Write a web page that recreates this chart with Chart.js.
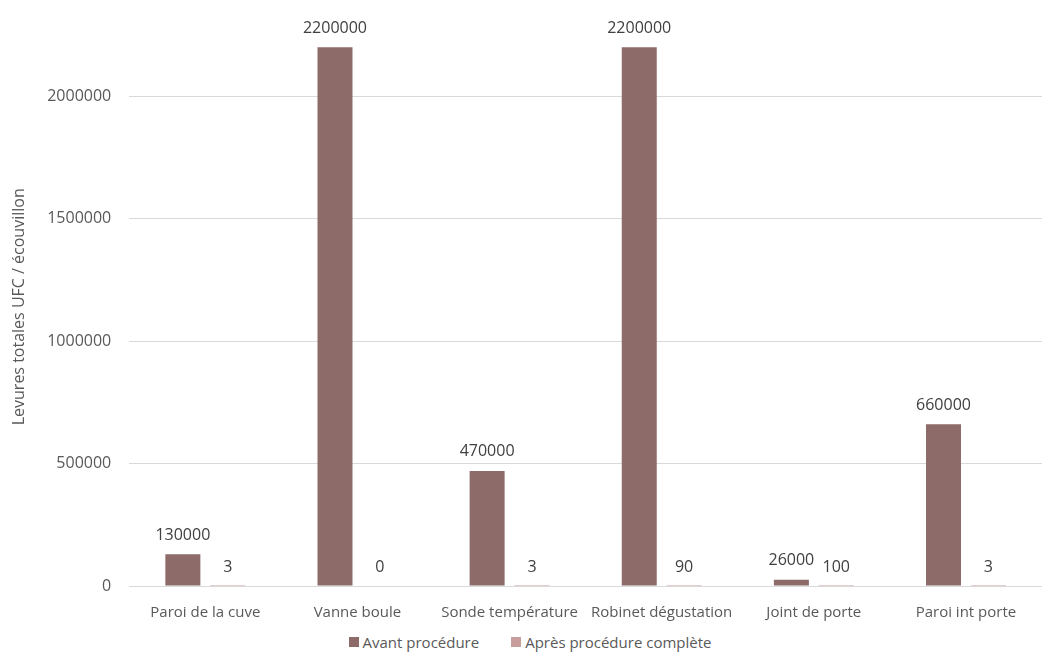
<!DOCTYPE html>
<html>
<head>
<meta charset="utf-8">
<script src="https://cdn.jsdelivr.net/npm/chart.js@4.4.0/dist/chart.umd.min.js"></script>
<style>
	html, body { margin: 0; padding: 0; background: #ffffff; }
	#wrap { width: 1043px; height: 624px; }
	#legend {
		width: 1043px;
		height: 30px;
		box-sizing: border-box;
		padding-left: 17px;
		padding-top: 6px;
		display: flex;
		justify-content: center;
		align-items: center;
		gap: 32px;
		font: 15px 'Open Sans', sans-serif;
		color: #595959;
	}
	#legend .item { display: flex; align-items: center; gap: 4px; }
	#legend .box { width: 10px; height: 10px; }
</style>
</head>
<body>
<div id="wrap"><canvas id="bar-chart"></canvas></div>
<div id="legend"></div>
<script>
const categories = ["Paroi de la cuve", "Vanne boule", "Sonde température", "Robinet dégustation", "Joint de porte", "Paroi int porte"];
const avant = [130000, 2200000, 470000, 2200000, 26000, 660000];
const apres = [3, 0, 3, 90, 100, 3];
const yTicks = [0, 500000, 1000000, 1500000, 2000000];

const textColor = "#595959";
const fontFamily = "'Open Sans', sans-serif";

// writes the value above each bar
const valueLabels = {
	id: "valueLabels",
	afterDatasetsDraw(chart) {
		const ctx = chart.ctx;
		ctx.save();
		ctx.font = "16px " + fontFamily;
		ctx.fillStyle = "#404040";
		ctx.textAlign = "center";
		ctx.textBaseline = "middle";
		chart.data.datasets.forEach((ds, i) => {
			chart.getDatasetMeta(i).data.forEach((bar, j) => {
				ctx.fillText(String(ds.data[j]), bar.x, bar.y - 19);
			});
		});
		ctx.restore();
	},
};

const chart = new Chart(document.getElementById("bar-chart"), {
	type: "bar",
	data: {
		labels: categories,
		datasets: [
			{
				label: "Avant procédure",
				backgroundColor: "#8c6b69",
				data: avant,
			},
			{
				label: "Après procédure complète",
				backgroundColor: "#c99d9c",
				data: apres,
			},
		],
	},
	options: {
		responsive: true,
		maintainAspectRatio: false,
		animation: false,
		barPercentage: 0.78,
		categoryPercentage: 0.59,
		layout: { padding: { top: -10, right: 1, left: 10, bottom: -8 } },
		plugins: {
			legend: { display: false },
			tooltip: { enabled: false },
		},
		scales: {
			x: {
				grid: { display: false },
				border: { display: false },
				ticks: {
					color: textColor,
					maxRotation: 0,
					autoSkip: false,
					padding: 10,
					font: { family: fontFamily, size: 15 },
				},
			},
			y: {
				min: 0,
				max: 2280000,
				afterBuildTicks: (axis) => {
					axis.ticks = yTicks.map((v) => ({ value: v }));
				},
				grid: { color: "#d9d9d9", drawTicks: false },
				border: { display: false },
				ticks: {
					color: textColor,
					padding: 18,
					font: { family: fontFamily, size: 16 },
					callback: (v) => String(v),
				},
				title: {
					display: true,
					text: "Levures totales UFC / écouvillon",
					color: textColor,
					padding: 0,
					font: { family: fontFamily, size: 16 },
				},
			},
		},
	},
	plugins: [valueLabels],
});

// html legend, spaced like the original
const legendEl = document.getElementById("legend");
chart.data.datasets.forEach((ds) => {
	const item = document.createElement("span");
	item.className = "item";
	const box = document.createElement("span");
	box.className = "box";
	box.style.background = ds.backgroundColor;
	const label = document.createElement("span");
	label.textContent = ds.label;
	item.appendChild(box);
	item.appendChild(label);
	legendEl.appendChild(item);
});
</script>
</body>
</html>
